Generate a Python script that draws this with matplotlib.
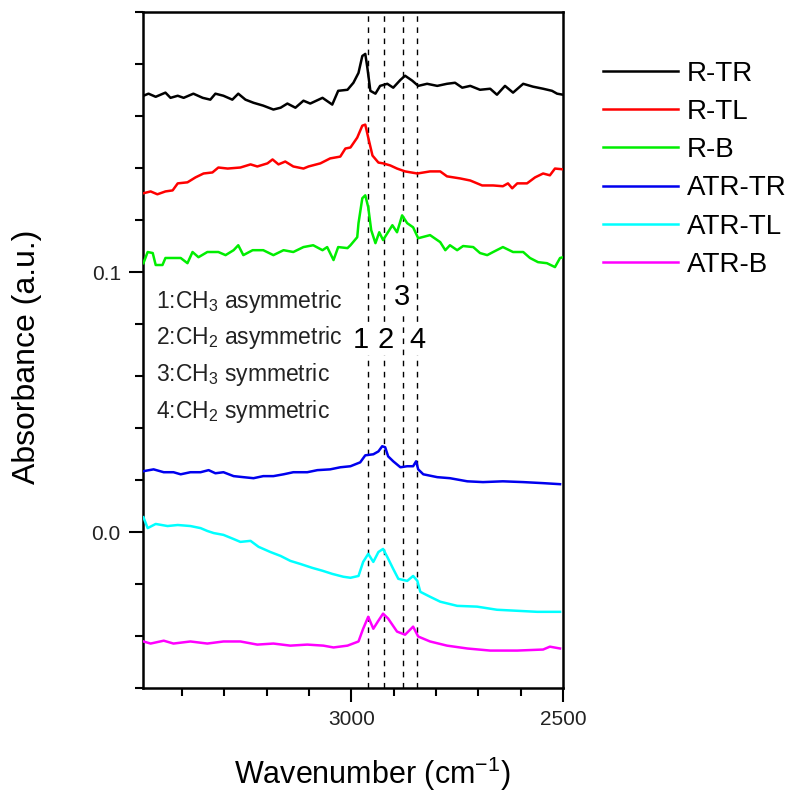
import matplotlib
matplotlib.use("Agg")
import matplotlib.pyplot as plt
from matplotlib.ticker import MultipleLocator, FixedLocator

plt.rcParams['font.family'] = ['Liberation Sans', 'DejaVu Sans']
plt.rcParams['mathtext.fontset'] = 'custom'
plt.rcParams['mathtext.rm'] = 'Liberation Sans'
plt.rcParams['mathtext.it'] = 'Liberation Sans'

# ---- data (wavenumber cm^-1, absorbance a.u.) ----
rtr_x = [3491, 3479, 3462, 3439, 3427, 3410, 3396, 3373, 3351, 3333, 3321, 3302, 3281, 3267,
         3250, 3231, 3208, 3184, 3167, 3151, 3132, 3113, 3097, 3068, 3045, 3031, 3009, 2995,
         2983, 2974, 2967, 2962, 2955, 2943, 2932, 2915, 2901, 2884, 2873, 2856, 2842, 2821,
         2797, 2774, 2755, 2738, 2719, 2696, 2672, 2656, 2637, 2618, 2594, 2571, 2547, 2526,
         2514, 2500]
rtr_y = [0.1678, 0.1686, 0.1674, 0.1690, 0.1670, 0.1678, 0.1670, 0.1686, 0.1670, 0.1663,
         0.1686, 0.1678, 0.1663, 0.1686, 0.1663, 0.1651, 0.1640, 0.1625, 0.1632, 0.1648,
         0.1632, 0.1659, 0.1648, 0.1670, 0.1644, 0.1697, 0.1701, 0.1728, 0.1766, 0.1831,
         0.1839, 0.1785, 0.1697, 0.1686, 0.1716, 0.1724, 0.1709, 0.1739, 0.1755, 0.1736,
         0.1716, 0.1724, 0.1716, 0.1724, 0.1728, 0.1709, 0.1716, 0.1701, 0.1705, 0.1682,
         0.1716, 0.1690, 0.1724, 0.1713, 0.1705, 0.1697, 0.1686, 0.1682]

rtl_x = [3491, 3474, 3458, 3439, 3422, 3410, 3387, 3368, 3349, 3328, 3314, 3292, 3262, 3238,
         3222, 3198, 3186, 3172, 3156, 3137, 3113, 3101, 3073, 3050, 3026, 3014, 3002, 2986,
         2974, 2967, 2960, 2950, 2936, 2925, 2908, 2892, 2873, 2844, 2814, 2790, 2774, 2743,
         2719, 2691, 2665, 2642, 2630, 2620, 2608, 2585, 2566, 2547, 2531, 2519, 2500]
rtl_y = [0.1303, 0.1310, 0.1299, 0.1310, 0.1314, 0.1341, 0.1345, 0.1364, 0.1379, 0.1383,
         0.1402, 0.1398, 0.1402, 0.1414, 0.1406, 0.1418, 0.1433, 0.1414, 0.1425, 0.1406,
         0.1398, 0.1406, 0.1418, 0.1437, 0.1444, 0.1475, 0.1479, 0.1517, 0.1563, 0.1567,
         0.1517, 0.1448, 0.1421, 0.1418, 0.1410, 0.1398, 0.1387, 0.1379, 0.1387, 0.1387,
         0.1368, 0.1360, 0.1352, 0.1333, 0.1333, 0.1330, 0.1341, 0.1322, 0.1341, 0.1341,
         0.1364, 0.1379, 0.1372, 0.1398, 0.1395]

rb_x = [3491, 3481, 3469, 3462, 3446, 3439, 3422, 3403, 3387, 3375, 3361, 3340, 3314, 3297,
        3278, 3267, 3255, 3233, 3208, 3184, 3160, 3137, 3113, 3090, 3068, 3057, 3042, 3031,
        3009, 3002, 2986, 2983, 2974, 2967, 2960, 2953, 2943, 2934, 2925, 2915, 2903, 2892,
        2880, 2868, 2854, 2842, 2814, 2790, 2778, 2767, 2750, 2736, 2712, 2696, 2679, 2665,
        2642, 2618, 2594, 2578, 2559, 2538, 2519, 2507, 2500]
rb_y = [0.1034, 0.1077, 0.1073, 0.1027, 0.1027, 0.1054, 0.1054, 0.1054, 0.1034, 0.1077,
        0.1057, 0.1077, 0.1077, 0.1065, 0.1084, 0.1103, 0.1065, 0.1084, 0.1084, 0.1065,
        0.1084, 0.1077, 0.1096, 0.1103, 0.1084, 0.1096, 0.1046, 0.1096, 0.1092, 0.1103,
        0.1134, 0.1188, 0.1284, 0.1295, 0.1249, 0.1161, 0.1111, 0.1153, 0.1123, 0.1149,
        0.1180, 0.1153, 0.1218, 0.1188, 0.1172, 0.1130, 0.1142, 0.1115, 0.1084, 0.1103,
        0.1084, 0.1100, 0.1096, 0.1073, 0.1065, 0.1077, 0.1096, 0.1077, 0.1077, 0.1054,
        0.1038, 0.1034, 0.1019, 0.1054, 0.1057]

atr_tr_x = [3491, 3467, 3443, 3420, 3403, 3380, 3356, 3337, 3321, 3302, 3278, 3255, 3231,
            3208, 3184, 3160, 3137, 3104, 3080, 3050, 3026, 3002, 2979, 2967, 2948, 2936,
            2927, 2920, 2913, 2901, 2884, 2868, 2854, 2847, 2842, 2830, 2797, 2767, 2726,
            2689, 2642, 2594, 2547, 2507]
atr_tr_y = [0.0234, 0.0241, 0.0230, 0.0230, 0.0222, 0.0230, 0.0230, 0.0238, 0.0226, 0.0230,
            0.0215, 0.0211, 0.0207, 0.0215, 0.0215, 0.0222, 0.0230, 0.0230, 0.0238, 0.0241,
            0.0249, 0.0253, 0.0268, 0.0295, 0.0299, 0.0310, 0.0330, 0.0326, 0.0291, 0.0272,
            0.0249, 0.0253, 0.0253, 0.0272, 0.0241, 0.0222, 0.0211, 0.0207, 0.0195, 0.0192,
            0.0195, 0.0192, 0.0188, 0.0184]

atr_tl_x = [3491, 3481, 3462, 3434, 3410, 3380, 3356, 3340, 3325, 3302, 3278, 3262, 3238,
            3219, 3191, 3167, 3144, 3120, 3092, 3068, 3045, 3019, 3002, 2983, 2972, 2960,
            2948, 2936, 2925, 2915, 2901, 2889, 2868, 2854, 2844, 2837, 2814, 2790, 2750,
            2703, 2656, 2608, 2561, 2507]
atr_tl_y = [0.0057, 0.0015, 0.0031, 0.0023, 0.0027, 0.0023, 0.0015, 0.0004, -0.0004, -0.0011,
            -0.0027, -0.0038, -0.0034, -0.0057, -0.0077, -0.0092, -0.0111, -0.0123, -0.0138,
            -0.0149, -0.0161, -0.0172, -0.0176, -0.0169, -0.0115, -0.0084, -0.0115, -0.0077,
            -0.0065, -0.0096, -0.0142, -0.0180, -0.0188, -0.0169, -0.0188, -0.0230, -0.0249,
            -0.0268, -0.0284, -0.0287, -0.0299, -0.0303, -0.0307, -0.0307]

atr_b_x = [3491, 3474, 3443, 3420, 3380, 3340, 3302, 3262, 3222, 3184, 3144, 3104, 3066,
           3042, 3009, 2983, 2972, 2960, 2948, 2936, 2925, 2913, 2892, 2873, 2854, 2842,
           2814, 2774, 2726, 2672, 2608, 2547, 2531, 2507]
atr_b_y = [-0.0421, -0.0429, -0.0418, -0.0429, -0.0421, -0.0429, -0.0421, -0.0421, -0.0433,
           -0.0429, -0.0437, -0.0433, -0.0437, -0.0444, -0.0437, -0.0421, -0.0372, -0.0326,
           -0.0372, -0.0341, -0.0314, -0.0333, -0.0383, -0.0395, -0.0364, -0.0402, -0.0421,
           -0.0437, -0.0448, -0.0456, -0.0456, -0.0452, -0.0441, -0.0448]

series_labels = ['R-TR', 'R-TL', 'R-B', 'ATR-TR', 'ATR-TL', 'ATR-B']
series_colors = ['#000000', '#ff0000', '#00ee00', '#0000ee', '#00ffff', '#ff00ff']

peak_positions = [2960, 2922, 2877, 2845]
peak_numbers = ['1', '2', '3', '4']
peak_number_x = [2977, 2920, 2880, 2844]
peak_number_y = [0.0739, 0.0739, 0.0904, 0.0739]

assign_lines = [r'1:CH$_3$ asymmetric', r'2:CH$_2$ asymmetric',
                r'3:CH$_3$ symmetric', r'4:CH$_2$ symmetric']
assign_y = [0.0885, 0.0747, 0.0605, 0.0464]

# ---- figure ----
fig = plt.figure(figsize=(8.02, 7.92), dpi=100)
ax = fig.add_axes([0.1783, 0.1313, 0.5237, 0.8535])

xs = [rtr_x, rtl_x, rb_x, atr_tr_x, atr_tl_x, atr_b_x]
ys = [rtr_y, rtl_y, rb_y, atr_tr_y, atr_tl_y, atr_b_y]
handles = []
for x, y, lab, c in zip(xs, ys, series_labels, series_colors):
    h, = ax.plot(x, y, color=c, lw=1.8, label=lab, zorder=3)
    handles.append(h)

for p in peak_positions:
    ax.axvline(p, color='black', lw=1.0, ls=(0, (4, 4)), zorder=2)

for t, xx, yy in zip(peak_numbers, peak_number_x, peak_number_y):
    ax.text(xx, yy, t, fontsize=21, ha='center', va='center', zorder=4,
            bbox=dict(facecolor='white', edgecolor='none', pad=1.0))

for t, yy in zip(assign_lines, assign_y):
    ax.text(3462, yy, t, fontsize=16.5, ha='left', va='center', color='#222222', zorder=4)

ax.set_xlim(3492, 2500)
ax.set_ylim(-0.06, 0.2)
ax.xaxis.set_major_locator(FixedLocator([3000, 2500]))
ax.xaxis.set_minor_locator(MultipleLocator(100))
ax.yaxis.set_major_locator(FixedLocator([0.0, 0.1]))
ax.yaxis.set_minor_locator(MultipleLocator(0.02))
ax.set_xticklabels(['3000', '2500'])
ax.set_yticklabels(['0.0', '0.1'])

ax.tick_params(which='major', direction='out', length=10, width=1.5, labelsize=15,
               colors='black', labelcolor='#222222', pad=6)
ax.tick_params(which='minor', direction='out', length=6, width=1.5)
for s in ax.spines.values():
    s.set_linewidth(1.8)

ax.set_xlabel('Wavenumber (cm$^{-1}$)', fontsize=22)
ax.xaxis.set_label_coords(0.545, -0.098)
ax.set_ylabel('Absorbance (a.u.)', fontsize=23)
ax.yaxis.set_label_coords(-0.240, 0.49)

fig.legend(handles=handles, labels=series_labels, loc='upper left',
           bbox_to_anchor=(0.735, 0.941), frameon=False, fontsize=20,
           handlelength=2.7, handletextpad=0.3, labelspacing=0.44, borderpad=0)

fig.savefig('out.png', dpi=100)
